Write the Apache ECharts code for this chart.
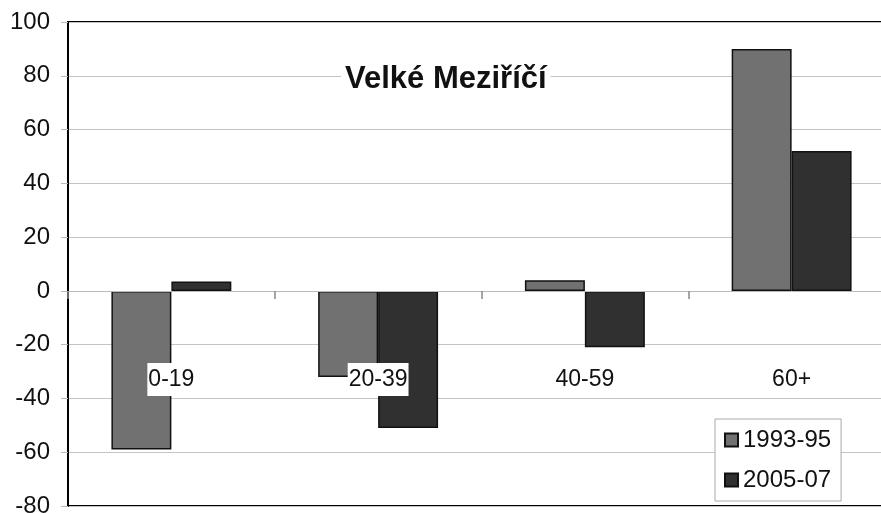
<!DOCTYPE html>
<html>
<head>
<meta charset="utf-8">
<script src="https://cdn.jsdelivr.net/npm/echarts@6/dist/echarts.min.js"></script>
<style>
  html, body { margin: 0; padding: 0; background: #fff; }
  #chart { width: 881px; height: 513px; }
</style>
</head>
<body>
<div id="chart"></div>
<script>
const categories = ['0-19', '20-39', '40-59', '60+'];
const values1993 = [-59, -32, 4, 90];
const values2005 = [3.5, -51, -21, 52];
const seriesNames = ['1993-95', '2005-07'];

const chart = echarts.init(document.getElementById('chart'));

const options = {
  animation: false,
  textStyle: { fontFamily: 'Liberation Sans, Arial, sans-serif' },
  title: {
    text: 'Velké Meziříčí',
    left: 341,
    top: 62,
    padding: [2, 4],
    backgroundColor: '#fff',
    textStyle: { fontSize: 31, fontWeight: 'bold', color: '#111' }
  },
  legend: {
    orient: 'vertical',
    left: 715,
    top: 419,
    padding: [9, 10, 9, 9],
    itemGap: 16,
    itemWidth: 13,
    itemHeight: 13,
    backgroundColor: '#fff',
    borderColor: '#aaa',
    borderWidth: 1,
    textStyle: { fontSize: 24, color: '#111' },
    data: seriesNames.map(n => ({ name: n, icon: 'rect' }))
  },
  grid: {
    left: 68,
    right: -14,
    top: 22,
    bottom: 7,
    show: true,
    borderColor: '#000',
    borderWidth: 2,
    containLabel: false,
    outerBoundsMode: 'none'
  },
  xAxis: {
    type: 'category',
    data: categories,
    z: 10,
    axisLine: { onZero: true, lineStyle: { color: '#bbb', width: 1 } },
    axisTick: { show: true, length: 8, lineStyle: { color: '#888', width: 1.5 } },
    axisLabel: {
      margin: -143,
      fontSize: 23,
      color: '#111',
      backgroundColor: '#fff',
      padding: [5, 1, 5, 1]
    },
    splitLine: { show: false }
  },
  yAxis: {
    type: 'value',
    min: -80,
    max: 100,
    interval: 20,
    axisLine: { show: true, lineStyle: { color: '#000', width: 2 } },
    axisTick: { show: true, length: 7, lineStyle: { color: '#bbb' } },
    axisLabel: { fontSize: 24, color: '#111', margin: 18 },
    splitLine: { show: true, lineStyle: { color: '#c4c4c4', width: 1 } }
  },
  series: [
    {
      name: seriesNames[0],
      type: 'bar',
      data: values1993,
      barWidth: '29%',
      barGap: '0%',
      itemStyle: { color: '#717171', borderColor: '#111', borderWidth: 1.5 }
    },
    {
      name: seriesNames[1],
      type: 'bar',
      data: values2005,
      barWidth: '29%',
      itemStyle: { color: '#303030', borderColor: '#111', borderWidth: 1.5 }
    }
  ]
};

chart.setOption(options);
</script>
</body>
</html>
